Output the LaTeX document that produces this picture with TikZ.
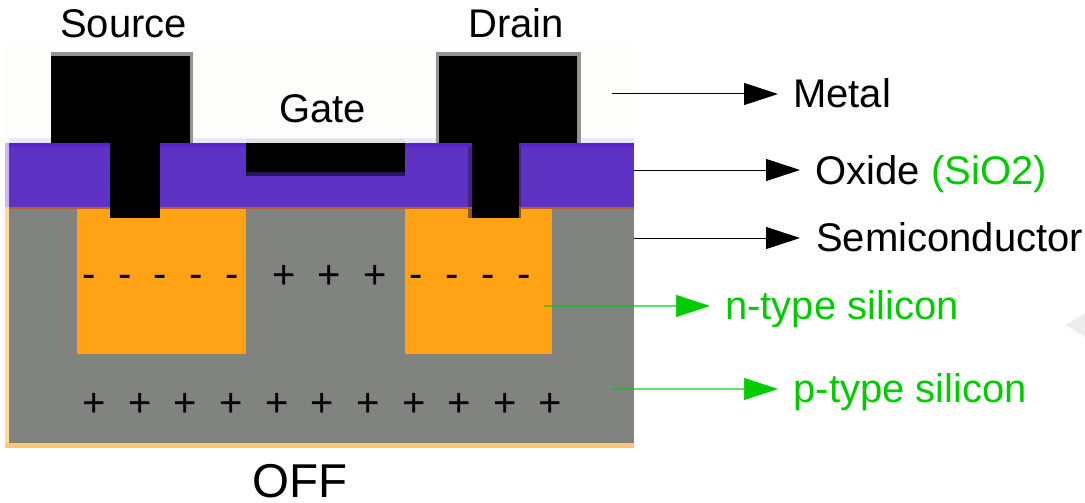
\documentclass[tikz,border=0pt]{standalone}
\usepackage{fontspec}
\setmainfont{Liberation Sans}
\usetikzlibrary{arrows.meta}
\definecolor{oxide}{HTML}{5E32C2}
\definecolor{oxidetop}{HTML}{5A22CC}
\definecolor{semi}{HTML}{81837F}
\definecolor{ntype}{HTML}{FFA216}
\definecolor{lgreen}{HTML}{00CC00}
\definecolor{paper}{HTML}{FDFDFB}
\definecolor{edgeorange}{HTML}{FFD9A0}
\definecolor{edgeorangeb}{HTML}{FFC670}
\definecolor{edgepurple}{HTML}{C9BAF0}
\definecolor{edgepurplet}{HTML}{EDE7FA}
\definecolor{rust}{HTML}{B8602A}
\tikzset{
  x=1pt,y=-1pt,
  label40/.style={inner sep=0pt,anchor=base west,font=\fontsize{40}{48}\selectfont},
  charge/.style={inner sep=0pt,anchor=base,font=\fontsize{40}{48}\selectfont},
  blackarrow/.style={draw=black,line width=1pt,-{Triangle[length=34pt,width=22pt]}},
  greenline/.style={draw=lgreen,draw opacity=0.6,line width=1.5pt},
  greenhead/.style={draw=lgreen,line width=0.5pt,-{Triangle[length=34pt,width=22pt]}},
  metal/.style={fill=black,draw=none},
  halo/.style={fill=black!42,draw=none},
}
\begin{document}
\begin{tikzpicture}
\useasboundingbox (0,0) rectangle (1085,503);
\fill[white] (0,0) rectangle (1085,503);
\fill[paper] (5,42) rectangle (634,143);
% faint mark at the right edge
\fill[black!7] (1066,325) -- (1085,313) -- (1085,337) -- cycle;
% substrate with light edges
\fill[edgepurplet] (9,138) rectangle (634,143);
\fill[edgepurple] (5,143) rectangle (9,207);
\fill[edgeorange] (5,207) rectangle (9,443);
\fill[edgeorangeb] (5,443) rectangle (634,448);
\fill[semi] (9,208) rectangle (634,443);
% oxide
\fill[oxide] (9,143) rectangle (634,207);
\fill[oxidetop] (9,143) rectangle (634,147);
\fill[rust] (9,207) rectangle (634,209);
% n-type wells
\fill[ntype] (77,209) rectangle (246,354);
\fill[ntype] (405,209) rectangle (552,354);
% source contact
\fill[halo] (51,52) rectangle (193,143);
\fill[metal] (51,56) rectangle (189.5,143);
\fill[metal] (110,143) rectangle (160,218);
% drain contact
\fill[halo] (436,52) rectangle (581,143);
\fill[metal] (439,56) rectangle (577,143);
\fill[oxide!70!black] (468,147) rectangle (521,207);
\fill[ntype!55!black] (468,209) rectangle (521,218);
\fill[metal] (472,143) rectangle (519,218);
% gate
\fill[black!12] (246,139) rectangle (405,143);
\fill[oxide!45!black] (246,172) rectangle (405,176);
\fill[metal] (246,143) rectangle (405,172);
% terminal labels
\node[label40] (source) at (60,38) {Source};
\node[label40] (drain) at (468,38) {Drain};
\node[label40] (gate) at (279,122) {Gate};
\node[inner sep=0pt,anchor=base,font=\fontsize{47.5}{56}\selectfont] (off) at (300,497) {OFF};
% side labels
\node[label40] (metal) at (793,107) {Metal};
\node[label40] (oxide) at (815.5,184) {Oxide \textcolor{lgreen}{(SiO2)}};
\node[label40] (semi) at (816,251) {Semiconductor};
\node[label40,text=lgreen] (nsi) at (725,319) {n-type silicon};
\node[label40,text=lgreen] (psi) at (793.5,402) {p-type silicon};
% arrows
\coordinate (m0) at (612,94);  \coordinate (m1) at (778,94);
\coordinate (o0) at (634,170); \coordinate (o1) at (800,170);
\coordinate (s0) at (634,238); \coordinate (s1) at (800,238);
\coordinate (n0) at (544,306); \coordinate (n2) at (676,306); \coordinate (n1) at (710,306);
\coordinate (p0) at (612,389); \coordinate (p2) at (744,389); \coordinate (p1) at (778,389);
\draw[blackarrow] (m0) -- (m1);
\draw[blackarrow] (o0) -- (o1);
\draw[blackarrow] (s0) -- (s1);
\draw[greenline] (n0) -- (n2);
\draw[greenhead] (n2) -- (n1);
\draw[greenline] (p0) -- (p2);
\draw[greenhead] (p2) -- (p1);
% charges
\foreach \x [count=\i] in {89,124.7,160.5,196.3,232,416,452,488,524}
  \node[charge] (minus\i) at (\x,287) {-};
\foreach \x [count=\i] in {284,329,375}
  \node[charge] (pluschan\i) at (\x,288) {+};
\foreach \x [count=\i] in {94,140,185,231,277,322,368,414,459,505,550}
  \node[charge] (plussub\i) at (\x,416) {+};
\end{tikzpicture}
\end{document}
